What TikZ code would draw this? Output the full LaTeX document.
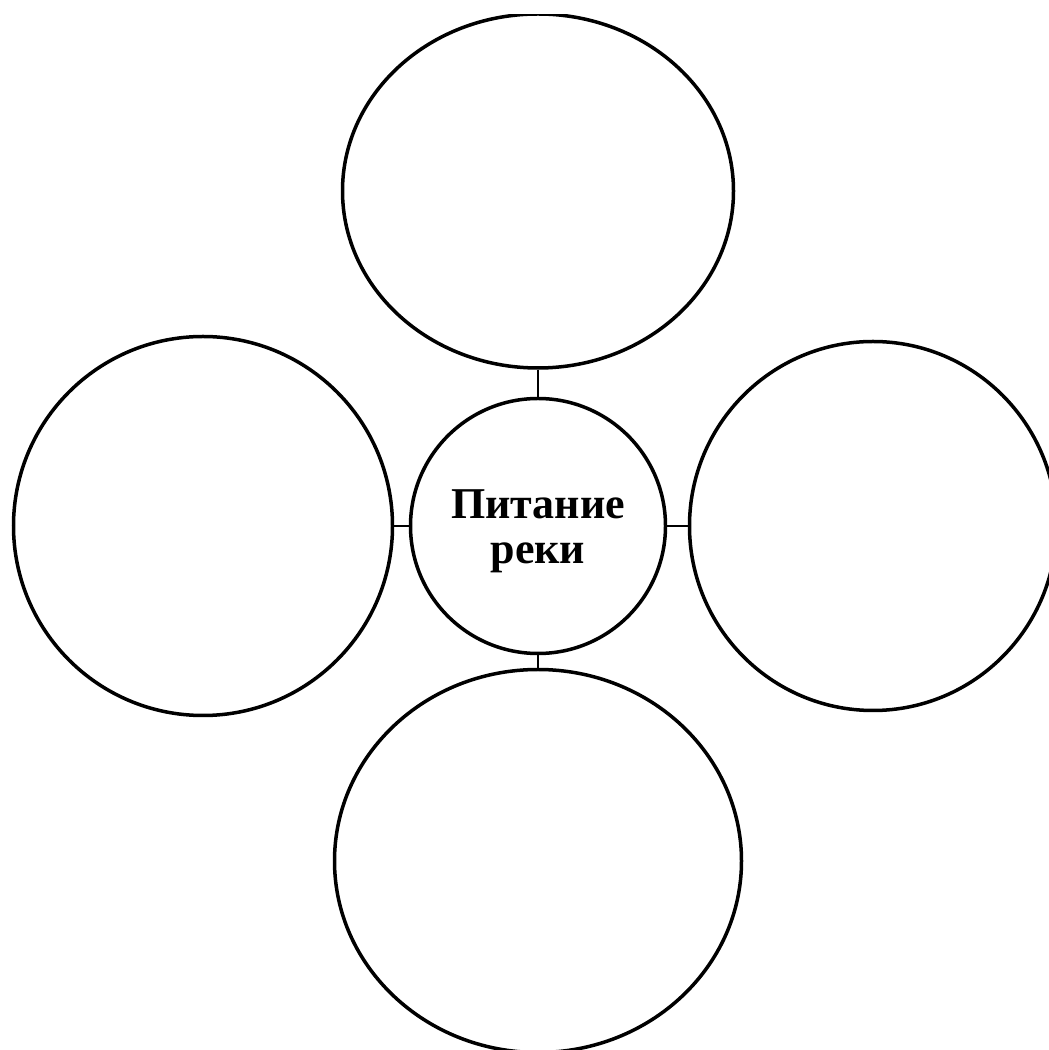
\documentclass[tikz,border=0pt]{standalone}
\usepackage{fontspec}
\setmainfont{Liberation Serif}
\usetikzlibrary{shapes.geometric}
\begin{document}
\begin{tikzpicture}[x=1pt,y=1pt,
  bubble/.style={draw=black,line width=3.5pt,ellipse,inner sep=0pt},
  hub/.style={draw=black,line width=3.5pt,circle,inner sep=0pt,minimum size=255pt},
  hubtext/.style={align=center,inner sep=0pt,font=\fontsize{44}{45}\selectfont\bfseries},
  link/.style={draw=black,line width=2.2pt}]
\useasboundingbox (0,0) rectangle (1049,1050);
\clip (0,0) rectangle (1049,1035);
\node[hub] (c) at (538,524) {};
\node[hubtext] (ct) at (538,519) {Питание\\реки};
\node[bubble,minimum width=391pt,minimum height=354pt] (t) at (538,859) {};
\node[bubble,minimum width=379pt,minimum height=379pt] (l) at (203,524) {};
\node[bubble,minimum width=367pt,minimum height=369pt] (r) at (873,524) {};
\node[bubble,minimum width=407pt,minimum height=383pt] (b) at (538,189) {};
\draw[link] (t.south) -- (c.north);
\draw[link] (l.east) -- (c.west);
\draw[link] (r.west) -- (c.east);
\draw[link] (b.north) -- (c.south);
\end{tikzpicture}
\end{document}
